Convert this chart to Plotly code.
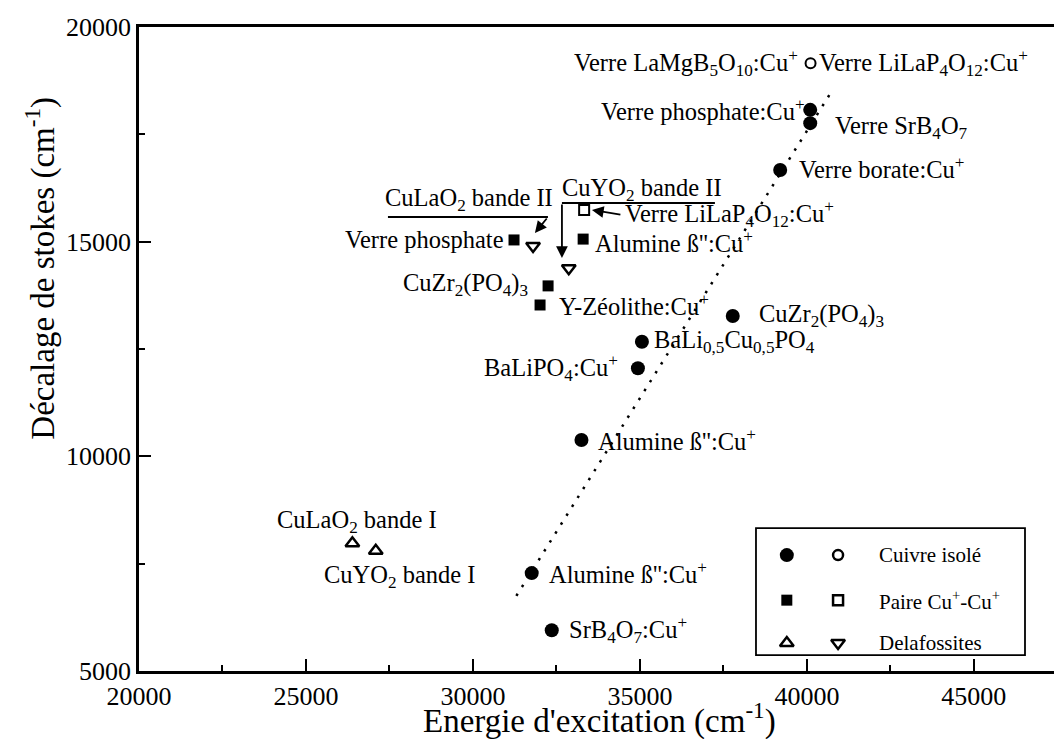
import plotly.graph_objects as go

# ---------------- data ----------------
# Cuivre isolé (filled circles)
iso_x = [40100, 40100, 39200, 37780, 35060, 34940, 33250, 31760, 32360]
iso_y = [18070, 17760, 16670, 13270, 12670, 12050, 10380, 7280, 5950]
# Cuivre isolé (open circle)
iso_open_x = [40110]
iso_open_y = [19155]
# Paire Cu+-Cu+ (filled squares)
pair_x = [31230, 33300, 32250, 32010]
pair_y = [15040, 15060, 13970, 13525]
# Paire Cu+-Cu+ (open square)
pair_open_x = [33330]
pair_open_y = [15740]
# Delafossites
delaf_up_x = [26390, 27090]
delaf_up_y = [7975, 7800]
delaf_down_x = [31800, 32870]
delaf_down_y = [14900, 14380]
# linear trend (dotted)
fit_x = [31300, 40700]
fit_y = [6750, 18450]

x_ticks = [20000, 25000, 30000, 35000, 40000, 45000]
y_ticks = [5000, 10000, 15000, 20000]

# labels: text, x, y, anchor
labels = [
    ("Verre LaMgB<sub>5</sub>O<sub>10</sub>:Cu<sup>+</sup>", 39790, 19163, "right"),
    ("Verre LiLaP<sub>4</sub>O<sub>12</sub>:Cu<sup>+</sup>", 40299, 19163, "left"),
    ("Verre phosphate:Cu<sup>+</sup>", 40000, 18068, "right"),
    ("Verre SrB<sub>4</sub>O<sub>7</sub>", 40778, 17649, "left"),
    ("Verre borate:Cu<sup>+</sup>", 39701, 16717, "left"),
    ("CuYO<sub>2</sub> bande II", 32600, 16204, "left"),
    ("CuLaO<sub>2</sub> bande II", 27300, 15971, "left"),
    ("Verre LiLaP<sub>4</sub>O<sub>12</sub>:Cu<sup>+</sup>", 34491, 15640, "left"),
    ("Verre phosphate", 30988, 15040, "right"),
    ("Alumine ß'':Cu<sup>+</sup>", 33593, 15000, "left"),
    ("CuZr<sub>2</sub>(PO<sub>4</sub>)<sub>3</sub>", 31707, 13991, "right"),
    ("Y-Zéolithe:Cu<sup>+</sup>", 32515, 13525, "left"),
    ("CuZr<sub>2</sub>(PO<sub>4</sub>)<sub>3</sub>", 38503, 13269, "left"),
    ("BaLi<sub>0,5</sub>Cu<sub>0,5</sub>PO<sub>4</sub>", 35359, 12664, "left"),
    ("BaLiPO<sub>4</sub>:Cu<sup>+</sup>", 34401, 12058, "right"),
    ("Alumine ß'':Cu<sup>+</sup>", 33683, 10381, "left"),
    ("CuLaO<sub>2</sub> bande I", 24072, 8471, "left"),
    ("CuYO<sub>2</sub> bande I", 25479, 7190, "left"),
    ("Alumine ß'':Cu<sup>+</sup>", 32216, 7283, "left"),
    ("SrB<sub>4</sub>O<sub>7</sub>:Cu<sup>+</sup>", 32814, 5955, "left"),
]

legend_rows = ["Cuivre isolé", "Paire Cu<sup>+</sup>-Cu<sup>+</sup>", "Delafossites"]

FONT = "Liberation Serif"
BLACK = "black"

fig = go.Figure()

fig.add_trace(go.Scatter(x=fit_x, y=fit_y, mode="lines",
                         line=dict(color=BLACK, width=2.5, dash="2.5px,8px"),
                         showlegend=False, hoverinfo="skip"))

def add_pts(x, y, symbol, size, lw=0):
    fig.add_trace(go.Scatter(x=x, y=y, mode="markers", showlegend=False,
                             marker=dict(symbol=symbol, size=size, color=BLACK,
                                         line=dict(color=BLACK, width=lw))))

add_pts(iso_x, iso_y, "circle", 14)
add_pts(iso_open_x, iso_open_y, "circle-open", 10, 2)
add_pts(pair_x, pair_y, "square", 11)
add_pts(pair_open_x, pair_open_y, "square-open", 10, 2)
add_pts(delaf_up_x, delaf_up_y, "triangle-up-open", 12, 2.5)
add_pts(delaf_down_x, delaf_down_y, "triangle-down-open", 12, 2.5)

# legend symbols on an overlay axis (0..1)
leg_rows_y = [0.180, 0.110, 0.0435]
leg_sym = [("circle", "circle-open", 14, 10), ("square", "square-open", 11, 10),
           ("triangle-up-open", "triangle-down-open", 12, 12)]
for (s1, s2, z1, z2), yy in zip(leg_sym, leg_rows_y):
    fig.add_trace(go.Scatter(x=[0.708], y=[yy], xaxis="x2", yaxis="y2", mode="markers",
                             showlegend=False,
                             marker=dict(symbol=s1, size=z1, color=BLACK,
                                         line=dict(color=BLACK, width=2.5 if "open" in s1 else 0))))
    fig.add_trace(go.Scatter(x=[0.764], y=[yy], xaxis="x2", yaxis="y2", mode="markers",
                             showlegend=False,
                             marker=dict(symbol=s2, size=z2, color=BLACK,
                                         line=dict(color=BLACK, width=2.5))))

annotations = []
for text, x, y, anc in labels:
    annotations.append(dict(text=text, x=x, y=y, xref="x", yref="y", xanchor=anc,
                            yanchor="middle", showarrow=False,
                            font=dict(family=FONT, size=24.5, color=BLACK)))

for text, yy in zip(legend_rows, leg_rows_y):
    annotations.append(dict(text=text, x=0.8066, y=yy, xref="paper", yref="paper",
                            xanchor="left", yanchor="middle", showarrow=False,
                            font=dict(family=FONT, size=21, color=BLACK)))

# arrows
arrow_common = dict(showarrow=True, arrowhead=2, arrowsize=1.3, arrowwidth=1.8,
                    arrowcolor=BLACK, text="", axref="x", ayref="y", xref="x", yref="y")
annotations.append(dict(x=31856, y=15203, ax=32246, ay=15575, **arrow_common))
annotations.append(dict(x=32665, y=14620, ax=32665, ay=15901, **arrow_common))
annotations.append(dict(x=33563, y=15738, ax=34461, ay=15622, **arrow_common))

# axis titles
annotations.append(dict(text="Energie d'excitation (cm<sup>-1</sup>)", x=0.503, y=-0.110,
                        xref="paper", yref="paper", xanchor="center", yanchor="bottom",
                        showarrow=False, font=dict(family=FONT, size=33, color=BLACK)))
annotations.append(dict(text="Décalage de stokes (cm<sup>-1</sup>)", x=-0.108, y=0.625,
                        xref="paper", yref="paper", xanchor="center", yanchor="middle",
                        textangle=-90, showarrow=False,
                        font=dict(family=FONT, size=33, color=BLACK)))

shapes = [
    dict(type="line", xref="x", yref="y", x0=27455, x1=32246, y0=15575, y1=15575,
         line=dict(color=BLACK, width=1.8)),
    dict(type="line", xref="x", yref="y", x0=32665, x1=37246, y0=15901, y1=15901,
         line=dict(color=BLACK, width=1.8)),
    dict(type="rect", xref="paper", yref="paper", x0=0.6743, x1=0.9683, y0=0.0248, y1=0.222,
         line=dict(color=BLACK, width=1.8), fillcolor="white", layer="below"),
]

axis_common = dict(showline=True, linecolor=BLACK, linewidth=2.5, ticks="inside",
                   ticklen=12, tickwidth=2, tickcolor=BLACK, showgrid=False, zeroline=False,
                   tickfont=dict(family=FONT, size=26, color=BLACK))

fig.update_layout(
    width=1054, height=739,
    margin=dict(l=139, r=0, t=27, b=68),
    plot_bgcolor="white", paper_bgcolor="white",
    showlegend=False,
    xaxis=dict(range=[20000, 47400], tickvals=x_ticks, ticktext=[str(v) for v in x_ticks],
               mirror=True,
               minor=dict(ticks="inside", ticklen=6, tickwidth=2, tickcolor=BLACK, dtick=2500,
                          tick0=20000),
               **axis_common),
    yaxis=dict(range=[5000, 20000], tickvals=y_ticks, ticktext=[str(v) for v in y_ticks],
               minor=dict(ticks="inside", ticklen=6, tickwidth=2, tickcolor=BLACK, dtick=2500,
                          tick0=5000),
               **axis_common),
    xaxis2=dict(range=[0, 1], overlaying="x", visible=False),
    yaxis2=dict(range=[0, 1], overlaying="y", visible=False),
    annotations=annotations,
    shapes=shapes,
)

fig.write_html("out.html", config={"displayModeBar": False},
               post_script="document.body.style.margin='0px';document.body.style.overflow='hidden';")
